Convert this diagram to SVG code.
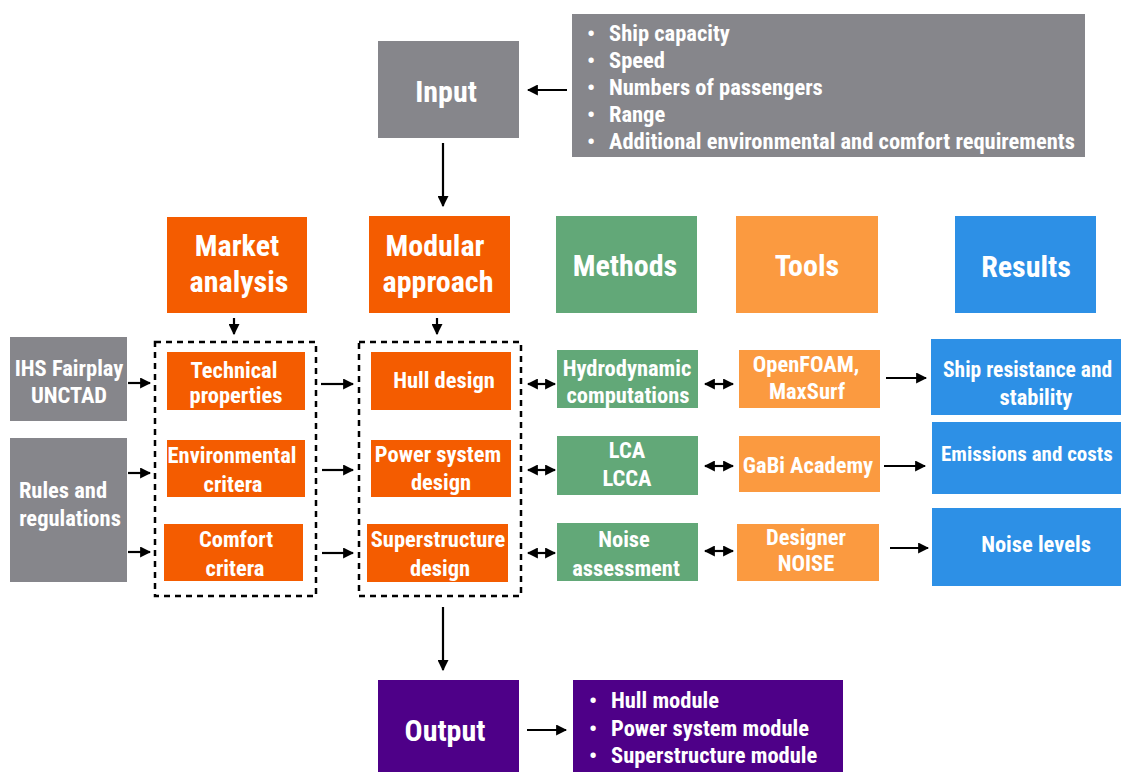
<svg xmlns="http://www.w3.org/2000/svg" width="1121" height="772" viewBox="0 0 1121 772">
<defs>
<marker id="ah" viewBox="0 0 10 10" refX="9" refY="5" markerWidth="5" markerHeight="5" orient="auto-start-reverse"><path d="M0,0 L10,5 L0,10 z" fill="#000"/></marker>
<style>
.t{font-family:"Roboto Condensed","Liberation Sans Narrow",Roboto,sans-serif;font-weight:bold;fill:#fff;text-anchor:middle}
.big{font-size:30px}
.mid{font-size:22.5px}
.lst{font-size:22.5px;text-anchor:start}
.s{text-anchor:start}
.gray{fill:#86868b}
.or{fill:#f45c00}
.gr{fill:#62a878}
.lo{fill:#fb9a40}
.bl{fill:#2d90e6}
.pu{fill:#4e0088}
.c line{stroke:#000;stroke-width:2.2;marker-end:url(#ah)}
.c line.d{marker-start:url(#ah)}
.dash{fill:none;stroke:#000;stroke-width:2.5;stroke-dasharray:6,5}
</style>
</defs>
<rect width="1121" height="772" fill="#fff"/>
<g id="input"><rect class="gray" x="378" y="41" width="141" height="97"/><text class="t big" x="446" y="102">Input</text></g>
<g id="input-list"><rect class="gray" x="572" y="14" width="513" height="143"/>
<text class="t lst" x="587" y="41">•</text><text class="t lst" x="609" y="41">Ship capacity</text>
<text class="t lst" x="587" y="68">•</text><text class="t lst" x="609" y="68">Speed</text>
<text class="t lst" x="587" y="95">•</text><text class="t lst" x="609" y="95">Numbers of passengers</text>
<text class="t lst" x="587" y="122">•</text><text class="t lst" x="609" y="122">Range</text>
<text class="t lst" x="587" y="149">•</text><text class="t lst" x="609" y="149">Additional environmental and comfort requirements</text></g>
<g id="market"><rect class="or" x="167" y="217" width="140" height="96"/><text class="t big" x="237" y="256">Market</text><text class="t big" x="239" y="292">analysis</text></g>
<g id="modular"><rect class="or" x="369" y="216" width="141" height="97"/><text class="t big" x="435" y="256">Modular</text><text class="t big" x="438" y="292">approach</text></g>
<g id="methods"><rect class="gr" x="556" y="216" width="141" height="97"/><text class="t big" x="625" y="276">Methods</text></g>
<g id="tools"><rect class="lo" x="736" y="216" width="142" height="97"/><text class="t big" x="807" y="276">Tools</text></g>
<g id="results"><rect class="bl" x="955" y="216" width="141" height="97"/><text class="t big" x="1026" y="277">Results</text></g>
<g id="dash1"><rect class="dash" x="155" y="342" width="161" height="254"/></g>
<g id="dash2"><rect class="dash" x="359" y="342" width="162" height="254"/></g>
<g id="ihs"><rect class="gray" x="10" y="337" width="117" height="84"/><text class="t mid" x="69" y="376">IHS Fairplay</text><text class="t mid" x="69" y="403">UNCTAD</text></g>
<g id="rules"><rect class="gray" x="10" y="438" width="117" height="144"/><text class="t mid" x="63" y="498">Rules and</text><text class="t mid" x="70" y="526">regulations</text></g>
<g id="tech"><rect class="or" x="167" y="352" width="138" height="58"/><text class="t mid" x="234" y="378">Technical</text><text class="t mid" x="236" y="403">properties</text></g>
<g id="env"><rect class="or" x="167" y="440" width="138" height="57"/><text class="t mid" x="232" y="463">Environmental</text><text class="t mid" x="233" y="492">critera</text></g>
<g id="comfort"><rect class="or" x="164" y="524" width="139" height="57"/><text class="t mid" x="236" y="547">Comfort</text><text class="t mid" x="235" y="576">critera</text></g>
<g id="hull"><rect class="or" x="371" y="352" width="140" height="58"/><text class="t mid" x="444" y="388">Hull design</text></g>
<g id="power"><rect class="or" x="371" y="440" width="140" height="57"/><text class="t mid" x="438" y="462">Power system</text><text class="t mid" x="441" y="490">design</text></g>
<g id="super"><rect class="or" x="367" y="524" width="141" height="58"/><text class="t mid" x="438" y="547">Superstructure</text><text class="t mid" x="440" y="576">design</text></g>
<g id="hydro"><rect class="gr" x="557" y="350" width="141" height="58"/><text class="t mid" x="627" y="376">Hydrodynamic</text><text class="t mid" x="628" y="403">computations</text></g>
<g id="lca"><rect class="gr" x="557" y="436" width="141" height="59"/><text class="t mid" x="627" y="458">LCA</text><text class="t mid" x="627" y="486">LCCA</text></g>
<g id="noise"><rect class="gr" x="557" y="523" width="141" height="58"/><text class="t mid" x="624" y="547">Noise</text><text class="t mid" x="626" y="576">assessment</text></g>
<g id="openfoam"><rect class="lo" x="739" y="350" width="141" height="58"/><text class="t mid" x="806" y="372">OpenFOAM,</text><text class="t mid" x="807" y="399">MaxSurf</text></g>
<g id="gabi"><rect class="lo" x="739" y="436" width="141" height="56"/><text class="t mid" x="808" y="473">GaBi Academy</text></g>
<g id="designer"><rect class="lo" x="737" y="524" width="142" height="57"/><text class="t mid" x="806" y="545">Designer</text><text class="t mid" x="806" y="571">NOISE</text></g>
<g id="shipres"><rect class="bl" x="931" y="339" width="190" height="76"/><text class="t s" style="font-size:21.5px" x="943" y="377">Ship resistance and</text><text class="t mid" x="1036" y="405">stability</text></g>
<g id="emis"><rect class="bl" x="932" y="422" width="189" height="72"/><text class="t s" style="font-size:21px" x="941" y="461">Emissions and costs</text></g>
<g id="noiselev"><rect class="bl" x="932" y="508" width="189" height="78"/><text class="t mid" x="1036" y="552">Noise levels</text></g>
<g id="output"><rect class="pu" x="378" y="680" width="141" height="92"/><text class="t big" x="445" y="741">Output</text></g>
<g id="output-list"><rect class="pu" x="573" y="680" width="270" height="92"/>
<text class="t lst" x="589" y="708">•</text><text class="t lst" x="611" y="708">Hull module</text>
<text class="t lst" x="589" y="736">•</text><text class="t lst" x="611" y="736">Power system module</text>
<text class="t lst" x="589" y="763">•</text><text class="t lst" x="611" y="763">Superstructure module</text></g>
<g class="c" id="connectors">
<line x1="567" y1="90" x2="528" y2="90"/>
<line x1="443" y1="143" x2="443" y2="206"/>
<line x1="234" y1="318" x2="234" y2="334"/>
<line x1="437" y1="318" x2="437" y2="334"/>
<line x1="128" y1="383" x2="150" y2="383"/>
<line x1="128" y1="473" x2="150" y2="473"/>
<line x1="128" y1="552" x2="150" y2="552"/>
<line x1="321" y1="384" x2="353" y2="384"/>
<line x1="322" y1="470" x2="353" y2="470"/>
<line x1="322" y1="553" x2="353" y2="553"/>
<line class="d" x1="528" y1="384" x2="555" y2="384"/>
<line class="d" x1="528" y1="470" x2="555" y2="470"/>
<line class="d" x1="528" y1="553" x2="555" y2="553"/>
<line class="d" x1="705" y1="384" x2="733" y2="384"/>
<line class="d" x1="705" y1="466" x2="733" y2="466"/>
<line class="d" x1="705" y1="551" x2="733" y2="551"/>
<line x1="886" y1="378" x2="926" y2="378"/>
<line x1="884" y1="466" x2="925" y2="466"/>
<line x1="890" y1="548" x2="928" y2="548"/>
<line x1="443" y1="607" x2="443" y2="670"/>
<line x1="527" y1="730" x2="566" y2="730"/>
</g>
</svg>
